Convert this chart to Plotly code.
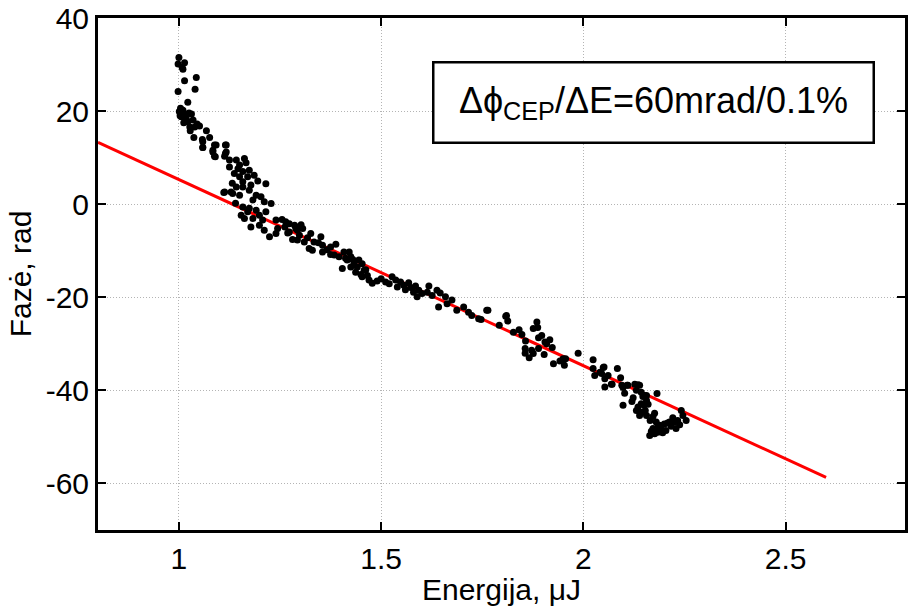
import plotly.graph_objects as go

# Measured points: energy (uJ) and phase (rad)
energy = [
    1.000, 1.014, 0.998, 1.010, 1.008, 1.043, 1.014, 1.040, 0.998, 1.022,
    1.004, 1.001, 1.010, 1.014, 1.006, 1.018, 1.031, 1.022, 1.035, 1.027,
    1.039, 1.028, 1.051, 1.068, 1.058, 1.076, 1.037, 1.059, 1.084, 1.092,
    1.090, 1.117, 1.115, 1.003, 1.012, 1.025, 1.045,
    1.059, 1.059, 1.088, 1.115, 1.084, 1.117, 1.088, 1.113, 1.125, 1.142,
    1.150, 1.125, 1.158, 1.174, 1.137, 1.150, 1.170, 1.158, 1.178, 1.215,
    1.142, 1.158, 1.113, 1.133, 1.150, 1.174, 1.191, 1.203, 1.183, 1.211,
    1.228, 1.158, 1.174, 1.191, 1.154, 1.170, 1.199, 1.215, 1.183, 1.207,
    1.162, 1.178, 1.199, 1.211, 1.224, 1.240, 1.244, 1.264, 1.273, 1.289,
    1.293, 1.129, 1.111, 1.146, 1.166, 1.186, 1.162, 1.195, 1.132, 1.140,
    1.255, 1.273, 1.286, 1.302, 1.269, 1.293, 1.306, 1.298, 1.326, 1.281,
    1.310, 1.334, 1.351, 1.322, 1.355, 1.330, 1.375, 1.388, 1.355, 1.375,
    1.396, 1.408, 1.421, 1.425, 1.416, 1.433, 1.445, 1.453, 1.404, 1.425,
    1.441, 1.437, 1.450, 1.458, 1.453, 1.470, 1.478, 1.490, 1.466, 1.511,
    1.527, 1.536, 1.540, 1.548, 1.556, 1.568, 1.573, 1.585, 1.593, 1.589,
    1.601, 1.618, 1.614, 1.626, 1.638, 1.646, 1.659, 1.240, 1.262, 1.318,
    1.345, 1.366, 1.384, 1.412, 1.430, 1.462, 1.500, 1.520, 1.560, 1.580,
    1.675, 1.704, 1.716, 1.687, 1.663, 1.642, 1.741, 1.761, 1.810, 1.724,
    1.747, 1.764, 1.792, 1.808, 1.813, 1.827, 1.841, 1.848, 1.857, 1.876,
    1.885, 1.887, 1.856, 1.856, 1.866, 1.872, 1.876, 1.889, 1.889, 1.897,
    1.905, 1.909, 1.917, 1.923, 1.903, 1.926, 1.942, 1.953, 1.956, 1.987,
    2.024, 2.024, 2.028, 2.049, 2.045, 2.053, 2.061, 2.053, 2.069, 2.084,
    2.092, 2.098, 2.102, 2.110, 2.127, 2.139, 2.131, 2.143, 2.147, 2.156,
    2.182, 2.123, 1.950, 2.041, 2.051, 2.071, 2.095, 2.108, 2.120, 2.135,
    2.151, 2.156, 2.143, 2.135, 2.150, 2.131, 2.143, 2.139, 2.156, 2.153,
    2.176, 2.172, 2.165, 2.180, 2.184, 2.172, 2.164, 2.176, 2.184, 2.192,
    2.200, 2.204, 2.213, 2.217, 2.221, 2.225, 2.233, 2.229, 2.242, 2.254,
    2.246, 2.168, 2.188, 2.196, 2.208, 2.238, 2.160, 2.098,
]
phase = [
    31.5, 30.4, 30.1, 29.0, 29.4, 27.2, 26.5, 24.7, 24.2, 21.9,
    20.6, 19.9, 20.2, 19.1, 18.8, 18.4, 19.4, 17.7, 18.1, 16.6,
    16.6, 15.8, 16.8, 15.8, 13.9, 14.3, 14.3, 12.2, 11.6, 12.7,
    10.2, 12.7, 10.9, 19.0, 17.5, 19.6, 17.2,
    13.4, 12.2, 12.7, 12.7, 11.2, 11.2, 10.3, 10.3, 9.5, 9.5,
    8.4, 8.0, 7.0, 7.3, 6.6, 5.9, 5.9, 4.8, 4.1, 4.4,
    3.7, 3.7, 2.6, 2.3, 1.9, 3.0, 1.9, 1.6, 0.9, 0.5,
    0.15, -0.6, -0.9, -1.3, -2.4, -1.6, -2.4, -1.6, -3.1, -3.4,
    -3.1, -4.9, -4.5, -5.6, -7.0, -3.4, -5.2, -3.8, -6.0, -5.2,
    -7.7, 2.6, 2.5, 7.6, 8.9, 6.2, 9.8, 5.0, 4.5, 0.2,
    -3.3, -4.2, -4.5, -4.4, -6.2, -5.6, -5.2, -6.7, -6.3, -7.6,
    -8.1, -8.1, -7.0, -9.5, -8.8, -9.9, -9.2, -8.6, -10.3, -10.8,
    -11.3, -10.3, -10.3, -11.3, -12.0, -12.8, -12.0, -12.8, -13.8, -13.5,
    -13.5, -14.6, -15.1, -14.2, -15.6, -16.3, -17.0, -16.5, -15.3, -16.7,
    -15.6, -16.3, -17.8, -16.7, -17.4, -16.9, -17.9, -17.6, -18.5, -19.9,
    -19.2, -17.6, -18.9, -19.6, -18.5, -19.1, -19.9, -6.3, -4.9, -7.2,
    -8.3, -9.8, -10.9, -11.6, -11.9, -14.1, -16.0, -17.1, -18.4, -18.9,
    -20.6, -22.1, -23.2, -22.8, -21.4, -22.1, -24.6, -22.8, -23.9, -23.9,
    -24.8, -22.8, -26.0, -24.1, -25.1, -27.5, -27.0, -28.0, -29.4, -26.7,
    -25.3, -26.5, -31.0, -32.0, -33.0, -31.4, -32.1, -31.0, -28.7, -28.2,
    -29.6, -30.0, -29.1, -30.8, -32.3, -34.3, -33.7, -34.6, -33.2, -32.0,
    -33.4, -35.3, -36.8, -35.1, -36.4, -37.5, -36.8, -39.3, -38.7, -35.3,
    -37.3, -39.4, -40.6, -38.9, -38.7, -38.9, -40.0, -40.4, -41.3, -41.1,
    -40.7, -41.6, -33.2, -36.1, -35.0, -38.7, -38.9, -38.9, -42.4, -38.8,
    -41.1, -42.2, -42.9, -43.6, -43.2, -44.3, -44.7, -45.4, -45.4, -44.3,
    -44.9, -45.6, -46.5, -46.8, -47.9, -48.2, -49.7, -49.3, -49.0, -48.2,
    -47.2, -48.6, -46.8, -47.7, -45.9, -46.8, -46.5, -48.2, -44.3, -46.5,
    -45.4, -48.8, -47.5, -49.1, -47.0, -47.4, -43.0, -43.2,
]

# Linear fit line end points
fit_x = [0.8, 2.6]
fit_y = [13.3, -58.7]

x_ticks = [1, 1.5, 2, 2.5]
y_ticks = [-60, -40, -20, 0, 20, 40]

FONT = "Liberation Sans, Arial, sans-serif"

fig = go.Figure()
fig.add_trace(go.Scatter(
    x=fit_x, y=fit_y, mode="lines",
    line=dict(color="#ff0000", width=3), showlegend=False,
))
fig.add_trace(go.Scatter(
    x=energy, y=phase, mode="markers",
    marker=dict(color="black", size=7, line=dict(width=0)), showlegend=False,
))

axis_common = dict(
    showline=True, linecolor="black", linewidth=3,
    ticks="inside", ticklen=8, tickwidth=2, tickcolor="black",
    showgrid=True, gridcolor="#b4b4b4", gridwidth=1, griddash="1px,2px",
    zeroline=False, mirror="ticks",
    tickfont=dict(family=FONT, size=30, color="black"),
    title_font=dict(family=FONT, size=30, color="black"),
)

fig.update_xaxes(
    range=[0.8, 0.8 + 810 / 406], tickvals=x_ticks,
    ticktext=[f"{v:g}" for v in x_ticks],
    title_text="Energija, μJ", title_standoff=3, **axis_common,
)
fig.update_yaxes(
    range=[-70, 40], tickvals=y_ticks,
    ticktext=[f"{v:g}" for v in y_ticks],
    title_text="Fazė, rad", title_standoff=6, **axis_common,
)

fig.add_annotation(
    xref="paper", yref="paper", x=0.688, y=0.834,
    xanchor="center", yanchor="middle",
    text="Δϕ<sub>CEP</sub>/ΔE=60mrad/0.1%",
    showarrow=False,
    font=dict(family=FONT, size=36, color="black"),
    bgcolor="white", bordercolor="black", borderwidth=2.5, borderpad=2,
    width=434, height=74,
)

fig.update_layout(
    width=908, height=606,
    margin=dict(l=98, r=0, t=18, b=76),
    paper_bgcolor="white", plot_bgcolor="white",
    font=dict(family=FONT, color="black"),
)

fig.write_html("out.html")
